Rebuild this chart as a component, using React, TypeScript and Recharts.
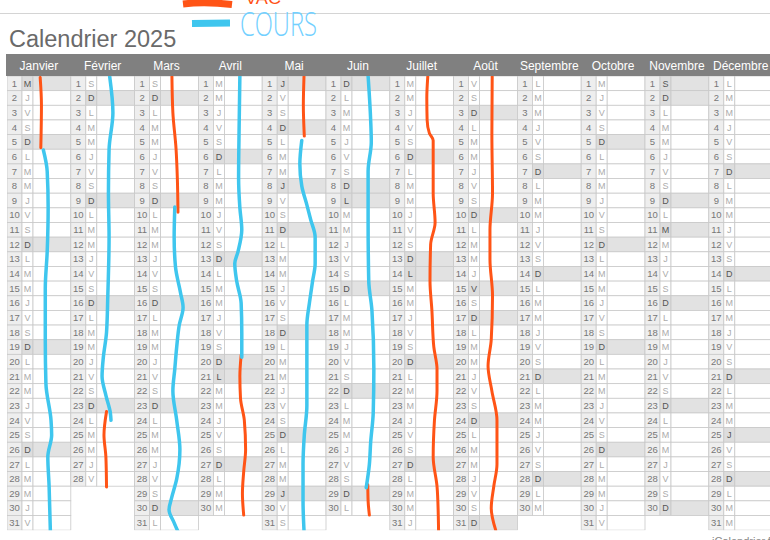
import React from 'react';
import { ComposedChart, XAxis, YAxis, Scatter, Line } from 'recharts';

// ---------- data ----------
const MONTHS = ['Janvier', 'Février', 'Mars', 'Avril', 'Mai', 'Juin', 'Juillet', 'Août', 'Septembre', 'Octobre', 'Novembre', 'Décembre'];
const DAYS_IN_MONTH = [31, 28, 31, 30, 31, 30, 31, 31, 30, 31, 30, 31];
// weekday of the 1st of each month, 0 = lundi
const FIRST_WEEKDAY = [2, 5, 5, 1, 3, 6, 1, 4, 0, 2, 5, 0];
const WEEKDAY_LETTERS = ['L', 'M', 'M', 'J', 'V', 'S', 'D'];
// jours fériés [mois, jour]
const HOLIDAYS = [[1, 1], [4, 21], [5, 1], [5, 8], [5, 29], [6, 9], [7, 14], [8, 15], [11, 1], [11, 11], [12, 25]];
const MONTH_TICKS = [0.5, 1.5, 2.5, 3.5, 4.5, 5.5, 6.5, 7.5, 8.5, 9.5, 10.5, 11.5];

// hand-drawn strokes: [month position, day position]
const VAC_JANVIER = [[0.52, 0.1], [0.54, 2], [0.53, 4.9]];
const VAC_FEVRIER = [[1.56, 22.9], [1.52, 24.5], [1.55, 26], [1.56, 28.05]];
const VAC_MARS = [[2.585, 0.05], [2.6, 2.5], [2.65, 5], [2.67, 7], [2.68, 9.3]];
const VAC_AVRIL = [[3.67, 19.05], [3.65, 20.5], [3.66, 22], [3.72, 23.5], [3.74, 25.5], [3.71, 27], [3.69, 28.5], [3.71, 29.97]];
const VAC_MAI = [[4.655, 0.05], [4.645, 2], [4.66, 4.1]];
const VAC_JUIN = [[5.655, 27.9], [5.66, 29], [5.68, 29.97]];
const VAC_JUILLET = [[6.595, 0.05], [6.58, 1.5], [6.585, 3], [6.62, 3.9], [6.68, 4.4], [6.68, 8], [6.71, 10], [6.64, 11.5], [6.63, 14], [6.66, 16], [6.69, 18.5], [6.74, 20], [6.74, 21.5], [6.7, 23.5], [6.68, 26], [6.74, 28], [6.76, 30], [6.765, 31.3]];
const VAC_AOUT = [[7.605, 0.05], [7.6, 4], [7.61, 8], [7.57, 10.5], [7.57, 12.5], [7.61, 15], [7.59, 18], [7.54, 19.8], [7.6, 21.5], [7.68, 23.5], [7.68, 26.5], [7.63, 28], [7.59, 29.5], [7.66, 31]];

const COURS_JANVIER = [[0.57, 5.05], [0.63, 6.5], [0.645, 9], [0.63, 12], [0.6, 14.5], [0.6, 18], [0.61, 21], [0.69, 23.5], [0.7, 24.5], [0.64, 26], [0.66, 28], [0.68, 31.1]];
const COURS_FEVRIER = [[1.61, 0.05], [1.66, 2.5], [1.6, 5], [1.59, 8], [1.6, 11], [1.58, 15], [1.56, 17.5], [1.51, 19.2], [1.49, 20.5], [1.55, 21.8], [1.62, 23], [1.63, 23.5]];
const COURS_MARS = [[2.63, 8.95], [2.62, 11], [2.64, 13], [2.72, 14.8], [2.76, 15.8], [2.7, 17], [2.66, 18.5], [2.63, 20], [2.6, 21.5], [2.66, 23.5], [2.71, 25.5], [2.66, 27.5], [2.58, 28.8], [2.54, 29.6], [2.62, 30.5], [2.68, 31.1]];
const COURS_AVRIL = [[3.65, 0.0], [3.64, 3], [3.63, 7], [3.65, 9], [3.68, 10.5], [3.62, 12], [3.57, 12.8], [3.6, 14], [3.67, 15.5], [3.68, 17.5], [3.68, 19.2]];
const COURS_MAI = [[4.62, 4.4], [4.59, 6], [4.62, 7.5], [4.7, 8.8], [4.76, 9.8], [4.83, 11], [4.83, 12.8], [4.79, 14], [4.74, 15.5], [4.7, 17], [4.7, 20], [4.7, 22.5], [4.66, 24.5], [4.64, 26.5], [4.64, 29], [4.655, 31]];
const COURS_JUIN = [[5.66, 0.0], [5.7, 3], [5.71, 4.5], [5.66, 6.5], [5.66, 10], [5.67, 14], [5.72, 16], [5.75, 20], [5.74, 23], [5.7, 25], [5.68, 26.5], [5.63, 28.1]];

const VAC_STROKES = [VAC_JANVIER, VAC_FEVRIER, VAC_MARS, VAC_AVRIL, VAC_MAI, VAC_JUIN, VAC_JUILLET, VAC_AOUT];
const COURS_STROKES = [COURS_JANVIER, COURS_FEVRIER, COURS_MARS, COURS_AVRIL, COURS_MAI, COURS_JUIN];

// ---------- build table ----------
const isHoliday = (m: number, d: number) => HOLIDAYS.some(([hm, hd]) => hm === m + 1 && hd === d);
const CELLS: any[] = [];
MONTHS.forEach((_, m) => {
  for (let d = 1; d <= DAYS_IN_MONTH[m]; d++) {
    const wd = (FIRST_WEEKDAY[m] + d - 1) % 7;
    CELLS.push({ x: m + 0.5, y: d - 0.5, day: d, letter: WEEKDAY_LETTERS[wd], shaded: wd === 6 || isHoliday(m, d) });
  }
});
const toPts = (arr: number[][]) => arr.map(([x, y]) => ({ x, y }));

// ---------- styles ----------
const COL_W = 63.8;
const ROW_H = 14.65;
const NUM_W = 15;
const LET_W = 11;
const FONT = '"Liberation Sans", Arial, Helvetica, sans-serif';
const ORANGE = '#FF5416';
const BLUE = '#3FC6EE';
const GRID = '#c9c9c9';

const CellShape = (props: any) => {
  const { cx, cy, payload } = props;
  if (cx == null || cy == null) return null;
  const x0 = cx - COL_W / 2;
  const y0 = cy - ROW_H / 2;
  const shade = payload.shaded ? '#e2e2e2' : '#ffffff';
  return (
    <g>
      <rect x={x0} y={y0} width={NUM_W} height={ROW_H} fill="#eeeeee" stroke={GRID} strokeWidth={0.8} />
      <rect x={x0 + NUM_W} y={y0} width={LET_W} height={ROW_H} fill={payload.shaded ? '#dddddd' : '#ffffff'} stroke={GRID} strokeWidth={0.8} />
      <rect x={x0 + NUM_W + LET_W} y={y0} width={COL_W - NUM_W - LET_W} height={ROW_H} fill={shade} stroke={GRID} strokeWidth={0.8} />
      <text x={x0 + NUM_W / 2} y={cy + 3.3} textAnchor="middle" fontSize={9.5} fontFamily={FONT} fill="#777">{payload.day}</text>
      <text x={x0 + NUM_W + LET_W / 2} y={cy + 3.3} textAnchor="middle" fontSize={9} fontFamily={FONT} fill={payload.shaded ? '#555' : '#ababab'}>{payload.letter}</text>
    </g>
  );
};

const MonthTick = (props: any) => {
  const { x, payload, index } = props;
  const left = x - COL_W / 2 - (index === 0 ? 1 : 0);
  return (
    <g>
      <rect x={left} y={54} width={COL_W + 1 + (index === 0 ? 1 : 0)} height={22} fill="#808080" />
      <text x={x} y={70} textAnchor="middle" fontSize={12} fontFamily={FONT} fill="#ffffff">{MONTHS[Math.round(payload.value - 0.5)]}</text>
    </g>
  );
};

export default function App() {
  return (
    <div style={{ position: 'absolute', left: 0, top: 0, width: 770, height: 540, overflow: 'hidden', background: '#fff' }}>
      <ComposedChart width={780} height={540} margin={{ top: 54, right: 7.4, bottom: 9.85, left: 7 }}>
        <XAxis
          xAxisId={0}
          dataKey="x"
          type="number"
          orientation="top"
          domain={[0, 12]}
          ticks={MONTH_TICKS}
          interval={0}
          height={22}
          axisLine={false}
          tickLine={false}
          tick={<MonthTick />}
          allowDataOverflow
        />
        <YAxis yAxisId={0} dataKey="y" type="number" domain={[0, 31]} reversed hide width={0} allowDataOverflow />
        <Scatter data={CELLS} dataKey="y" shape={<CellShape />} isAnimationActive={false} {...({ zIndex: 50 } as any)} />
        {VAC_STROKES.map((s, i) => (
          <Line key={'v' + i} data={toPts(s)} dataKey="y" type="monotoneY" stroke={ORANGE} strokeWidth={3} strokeLinecap="round" dot={false} activeDot={false} isAnimationActive={false} {...({ zIndex: 900 } as any)} />
        ))}
        {COURS_STROKES.map((s, i) => (
          <Line key={'c' + i} data={toPts(s)} dataKey="y" type="monotoneY" stroke={BLUE} strokeWidth={3.5} strokeLinecap="round" dot={false} activeDot={false} isAnimationActive={false} {...({ zIndex: 900 } as any)} />
        ))}
      </ComposedChart>
      <svg width={770} height={540} style={{ position: 'absolute', left: 0, top: 0, pointerEvents: 'none' }}>
        <line x1={0} y1={13.5} x2={770} y2={13.5} stroke="#d4d4d4" strokeWidth={1.2} />
        <text x={9} y={47} fontSize={23.5} fontFamily={FONT} fill="#6a6a6a">Calendrier 2025</text>
        <path d="M183,4 Q205,1.5 232,4.5" stroke={ORANGE} strokeWidth={7} fill="none" />
        <text x={245} y={4} fontSize={16} fontFamily={FONT} fill={ORANGE} textLength={36} lengthAdjust="spacingAndGlyphs">VAC</text>
        <path d="M192,23.5 L230,23" stroke={BLUE} strokeWidth={7} fill="none" />
        <text x={240} y={36} fontSize={33} fontWeight={300} fontFamily='"Open Sans", sans-serif' fill="#72D0FF" textLength={77} lengthAdjust="spacingAndGlyphs">COURS</text>
        <text x={712} y={545} fontSize={11} fontFamily={FONT} fill="#888">iCalendrier.fr</text>
      </svg>
    </div>
  );
}
